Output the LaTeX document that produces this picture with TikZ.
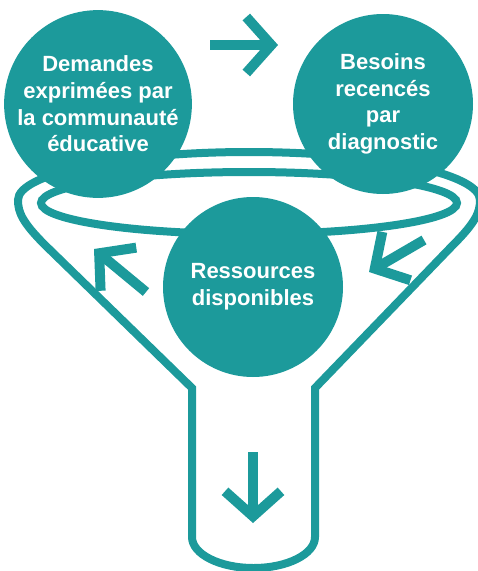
\documentclass[tikz,border=0pt]{standalone}
\usepackage{fontspec}
\setmainfont{Liberation Sans}
\usetikzlibrary{arrows.meta}
\pgfdeclarelayer{edgelayer}
\pgfdeclarelayer{nodelayer}
\pgfsetlayers{edgelayer,nodelayer,main}
\definecolor{funnelteal}{RGB}{28,154,155}
\tikzstyle{bubble}=[circle,fill=funnelteal,minimum size=180pt,inner sep=0pt,text=white,align=center,font=\fontsize{22}{26.7}\selectfont\bfseries]
\tikzstyle{rim}=[draw=funnelteal,line width=8pt,line join=miter]
\tikzstyle{flow}=[draw=funnelteal,line width=10pt,-{Straight Barb[length=25pt,width=56pt]}]

\begin{document}
\begin{tikzpicture}[x=1pt,y=1pt]
	\useasboundingbox (0,0) rectangle (478,-571);
	\begin{pgfonlayer}{nodelayer}
		\node [style=bubble] (0) at (98,-104) {Demandes\\exprimées par\\la communauté\\éducative};
		\node [style=bubble] (1) at (383,-104) {Besoins\\recencés\\par\\diagnostic};
		\node [style=bubble] (2) at (253,-287) {Ressources\\disponibles};
	\end{pgfonlayer}
	\begin{pgfonlayer}{edgelayer}
		\coordinate (3) at (192,-388);
		\coordinate (4) at (315,-388);
		\coordinate (5) at (210,-45);
		\coordinate (6) at (278,-45);
		\coordinate (7) at (146,-292);
		\coordinate (8) at (94,-249);
		\coordinate (9) at (424,-240);
		\coordinate (10) at (369,-272);
		\coordinate (11) at (253,-452);
		\coordinate (12) at (253,-523);
		% funnel outline
		\draw [style=rim] (3) -- (45,-245) .. controls (22,-222) and (18,-212) .. (18,-200)
			arc [start angle=180, end angle=0, x radius=231, y radius=48]
			.. controls (480,-212) and (476,-222) .. (453,-245) -- (4) -- (315,-537)
			arc [start angle=0, end angle=-180, x radius=61.5, y radius=31] -- cycle;
		\draw [style=rim] (249,-203) ellipse [x radius=208, y radius=31];
		% arrows
		\draw [style=flow] (5) -- (6);
		\draw [style=flow] (7) -- (8);
		\draw [style=flow] (9) -- (10);
		\draw [style=flow] (11) -- (12);
	\end{pgfonlayer}
\end{tikzpicture}
\end{document}
